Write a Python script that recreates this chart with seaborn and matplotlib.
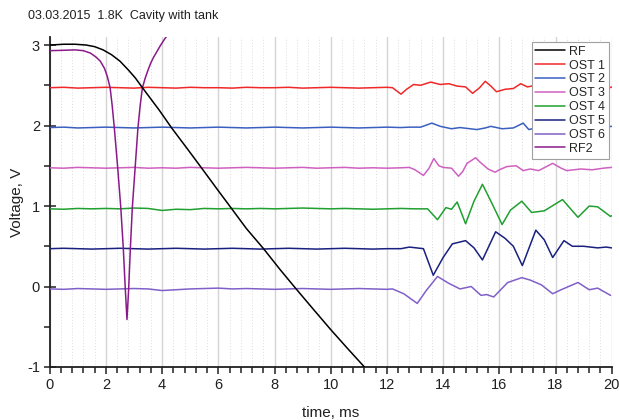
import numpy as np
import pandas as pd
import matplotlib
matplotlib.use("Agg")
import matplotlib.pyplot as plt
from matplotlib.ticker import MultipleLocator
import seaborn as sns

sns.set_theme(style="white")
plt.rcParams['font.family'] = ['Liberation Sans', 'DejaVu Sans']

title = "03.03.2015  1.8K  Cavity with tank"
xlabel = "time, ms"
ylabel = "Voltage, V"

# RF (black)
rf_t = [0, 0.5, 0.9, 1.3, 1.6, 1.9, 2.2, 2.5, 2.8, 3.05, 3.3, 3.6, 3.9, 4.34, 4.9,
        5.41, 6.0, 6.48, 7.0, 7.61, 8.2, 8.77, 9.4, 10.0, 10.6, 11.2]
rf_v = [3.0, 3.01, 3.01, 3.0, 2.98, 2.94, 2.88, 2.80, 2.69, 2.59, 2.47, 2.33, 2.19, 1.97, 1.71,
        1.47, 1.19, 0.965, 0.72, 0.47, 0.21, -0.03, -0.29, -0.535, -0.77, -1.0]

# RF2 (purple)
rf2_t = [0, 0.5, 0.9, 1.2, 1.45, 1.65, 1.8, 1.95, 2.05, 2.15, 2.22, 2.3, 2.42, 2.53, 2.62, 2.69, 2.75,
         2.81, 2.87, 2.94, 3.04, 3.14, 3.22, 3.3, 3.4, 3.5, 3.6, 3.7, 3.8, 3.95, 4.1, 4.25]
rf2_v = [2.93, 2.935, 2.94, 2.93, 2.90, 2.85, 2.80, 2.71, 2.61, 2.47, 2.26, 1.97, 1.475, 0.98, 0.47, -0.03, -0.41,
         -0.03, 0.47, 0.98, 1.475, 1.97, 2.25, 2.47, 2.59, 2.69, 2.78, 2.85, 2.91, 3.0, 3.08, 3.15]

base_t = [0, 0.5, 1, 1.5, 2, 2.5, 3, 3.5, 4, 4.5, 5, 5.5, 6, 6.5, 7, 7.5, 8, 8.5, 9, 9.5,
          10, 10.5, 11, 11.5, 12]

ost1_t = base_t + [12.2, 12.35, 12.5, 12.7, 12.95, 13.2, 13.56, 13.9, 14.2, 14.5, 14.8, 15.05,
                   15.3, 15.5, 15.7, 15.9, 16.2, 16.5, 16.76, 17.0, 17.3, 17.6, 18.0, 18.5, 19.0,
                   19.5, 19.8, 20]
ost1_v = [2.47, 2.475, 2.465, 2.47, 2.475, 2.47, 2.465, 2.475, 2.47, 2.465, 2.475, 2.47, 2.47,
          2.465, 2.475, 2.47, 2.47, 2.475, 2.465, 2.47, 2.475, 2.47, 2.465, 2.47, 2.475,
          2.47, 2.43, 2.39, 2.45, 2.51, 2.50, 2.54, 2.51, 2.52, 2.49, 2.48, 2.40,
          2.47, 2.55, 2.49, 2.42, 2.45, 2.46, 2.52, 2.48, 2.50, 2.47, 2.46, 2.48, 2.45,
          2.47, 2.45, 2.48]

ost2_t = base_t + [12.5, 12.8, 13.2, 13.6, 13.9, 14.3, 14.6, 15.2, 15.5, 15.7, 16.1, 16.5, 16.85,
                   17.05, 17.3, 18.0, 19.0, 19.6, 20]
ost2_v = [1.975, 1.98, 1.97, 1.975, 1.98, 1.975, 1.97, 1.975, 1.98, 1.975, 1.97, 1.975, 1.98,
          1.975, 1.97, 1.975, 1.98, 1.975, 1.97, 1.975, 1.98, 1.975, 1.97, 1.975, 1.98,
          1.975, 1.98, 1.98, 2.03, 1.99, 1.96, 1.975, 1.95, 1.97, 1.99, 1.96, 1.97, 2.03,
          1.95, 1.97, 1.98, 1.97, 1.975, 1.99]

ost3_t = base_t + [12.5, 12.8, 13.0, 13.3, 13.5, 13.67, 13.85, 14.0, 14.3, 14.55, 14.7, 14.85,
                   15.16, 15.3, 15.6, 15.85, 16.0, 16.27, 16.6, 16.85, 17.1, 17.4, 17.9, 18.2,
                   18.4, 18.9, 19.3, 19.7, 20]
ost3_v = [1.475, 1.47, 1.48, 1.475, 1.47, 1.475, 1.48, 1.47, 1.475, 1.47, 1.48, 1.475, 1.47,
          1.475, 1.48, 1.475, 1.47, 1.475, 1.48, 1.47, 1.475, 1.48, 1.47, 1.475, 1.47,
          1.475, 1.48, 1.45, 1.38, 1.47, 1.59, 1.50, 1.48, 1.47, 1.37, 1.43, 1.53,
          1.60, 1.55, 1.46, 1.42, 1.45, 1.49, 1.50, 1.44, 1.46, 1.44, 1.53, 1.47,
          1.44, 1.46, 1.45, 1.47, 1.48]

ost4_t = base_t + [12.5, 13.0, 13.45, 13.8, 14.1, 14.3, 14.5, 14.8, 15.1, 15.4, 15.7, 16.1, 16.4,
                   16.8, 17.15, 17.6, 18.25, 18.8, 19.2, 19.5, 19.96, 20]
ost4_v = [0.965, 0.96, 0.97, 0.965, 0.97, 0.965, 0.975, 0.97, 0.945, 0.96, 0.955, 0.97, 0.965,
          0.97, 0.965, 0.97, 0.965, 0.97, 0.975, 0.97, 0.965, 0.97, 0.965, 0.96, 0.965,
          0.97, 0.965, 0.965, 0.83, 0.98, 0.96, 1.05, 0.78, 1.06, 1.27, 1.06, 0.77, 0.95,
          1.06, 0.92, 0.94, 1.08, 0.86, 1.0, 0.99, 0.87, 0.88]

ost5_t = base_t + [12.5, 12.8, 13.3, 13.65, 14.0, 14.33, 14.8, 15.1, 15.4, 15.87, 16.2, 16.5,
                   16.82, 17.3, 17.6, 17.9, 18.3, 18.6, 19.0, 19.5, 19.8, 20]
ost5_v = [0.47, 0.475, 0.47, 0.465, 0.47, 0.475, 0.47, 0.465, 0.47, 0.475, 0.47, 0.465, 0.47,
          0.475, 0.47, 0.465, 0.47, 0.475, 0.47, 0.465, 0.47, 0.475, 0.47, 0.465, 0.47,
          0.47, 0.49, 0.47, 0.14, 0.36, 0.53, 0.57, 0.48, 0.33, 0.68, 0.60, 0.50,
          0.26, 0.70, 0.58, 0.36, 0.57, 0.50, 0.50, 0.48, 0.49, 0.48]

ost6_t = base_t + [12.2, 12.6, 13.08, 13.4, 13.8, 14.2, 14.6, 15.0, 15.35, 15.55, 15.8, 16.3,
                   16.8, 17.1, 17.5, 17.9, 18.2, 18.8, 19.2, 19.5, 19.96]
ost6_v = [-0.03, -0.035, -0.025, -0.03, -0.035, -0.03, -0.025, -0.03, -0.05, -0.04, -0.03,
          -0.025, -0.02, -0.03, -0.025, -0.03, -0.035, -0.03, -0.025, -0.03, -0.035, -0.03,
          -0.025, -0.03, -0.035,
          -0.03, -0.09, -0.21, -0.05, 0.125, 0.04, -0.03, 0.0, -0.11, -0.10, -0.13, 0.05,
          0.11, 0.08, 0.02, -0.09, -0.04, 0.05, -0.04, -0.02, -0.11]

series = [
    ("RF", rf_t, rf_v, "#000000", 5),
    ("OST 1", ost1_t, ost1_v, "#f02828", 3),
    ("OST 2", ost2_t, ost2_v, "#3a5fc0", 3),
    ("OST 3", ost3_t, ost3_v, "#d060c0", 3),
    ("OST 4", ost4_t, ost4_v, "#20a030", 3),
    ("OST 5", ost5_t, ost5_v, "#1a2080", 3),
    ("OST 6", ost6_t, ost6_v, "#8060c8", 3),
    ("RF2", rf2_t, rf2_v, "#8a1a8a", 4),
]

fig = plt.figure(figsize=(6.19, 4.20), dpi=100)
ax = fig.add_axes([49.7 / 619, 53 / 420, 562 / 619, 330 / 420])

handles = []
for name, t, v, col, z in series:
    df = pd.DataFrame({"time": t, "voltage": v})
    sns.lineplot(data=df, x="time", y="voltage", color=col, linewidth=1.1,
                 estimator=None, sort=False, ax=ax, zorder=z, label=name, legend=False)
    handles.append(ax.get_lines()[-1])

ax.set_xlim(0, 20)
ax.set_ylim(-1, 3.1)
ax.xaxis.set_major_locator(MultipleLocator(2))
ax.xaxis.set_minor_locator(MultipleLocator(0.4))
ax.yaxis.set_minor_locator(MultipleLocator(0.5))
ax.set_yticks([-1, 0, 1, 2, 3])
ax.set_yticklabels(["-1", "0", "1", "2", "3"])

ax.grid(False)
ax.grid(True, which="major", axis="x", color="#d4d4d4", linewidth=1.0, linestyle="-", zorder=0)
ax.grid(True, which="minor", axis="x", color="#dcdcdc", linewidth=0.7, linestyle=(0, (1, 2)), zorder=0)
ax.set_axisbelow(True)

for s in ["top", "right"]:
    ax.spines[s].set_visible(False)
for s in ["left", "bottom"]:
    ax.spines[s].set_color("#202020")
    ax.spines[s].set_linewidth(1.3)

ax.tick_params(axis="both", which="both", direction="out", colors="#202020",
               labelsize=10.5, width=1.1, bottom=True, left=True)
ax.tick_params(axis="both", which="major", length=5, pad=3)
ax.tick_params(axis="y", which="major", direction="inout", length=8)
ax.tick_params(axis="both", which="minor", length=4)

ax.set_xlabel(xlabel, fontsize=11, color="#202020", labelpad=10)
ax.set_ylabel(ylabel, fontsize=11, color="#202020", labelpad=2)

fig.text(28 / 619, 1 - 16 / 420, title, fontsize=9, color="#202020", va="center", ha="left")

leg = ax.legend(handles=handles, labels=[s[0] for s in series], loc="upper right",
                bbox_to_anchor=(0.995, 0.985), fontsize=9, frameon=True, fancybox=False,
                framealpha=1, edgecolor="#a0a0a0", handlelength=2.4, handletextpad=0.3,
                labelspacing=0.15, borderpad=0.3, borderaxespad=0)
leg.get_frame().set_linewidth(0.8)
leg.set_zorder(10)

fig.savefig("out.png", dpi=100)
